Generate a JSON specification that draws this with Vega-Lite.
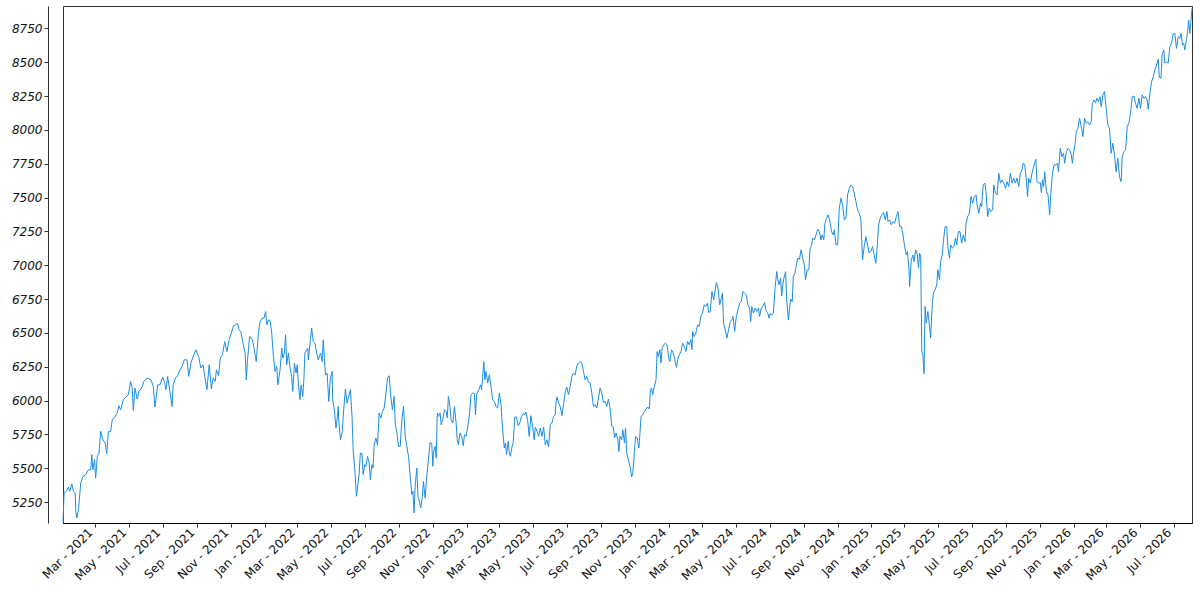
{
  "$schema": "https://vega.github.io/schema/vega-lite/v6.json",
  "width": 1129,
  "height": 517,
  "autosize": {"type": "none"},
  "padding": {"left": 63, "top": 6, "right": 8, "bottom": 77},
  "background": "white",
  "data": {
    "values": [
      {"date": "2021-01-02", "value": 5100}, {"date": "2021-01-04", "value": 5321}, {"date": "2021-01-08", "value": 5329},
      {"date": "2021-01-12", "value": 5361}, {"date": "2021-01-14", "value": 5329}, {"date": "2021-01-18", "value": 5383},
      {"date": "2021-01-21", "value": 5329}, {"date": "2021-01-24", "value": 5317}, {"date": "2021-01-25", "value": 5181},
      {"date": "2021-01-27", "value": 5132}, {"date": "2021-01-30", "value": 5194}, {"date": "2021-02-03", "value": 5391},
      {"date": "2021-02-07", "value": 5439}, {"date": "2021-02-12", "value": 5452}, {"date": "2021-02-17", "value": 5489},
      {"date": "2021-02-21", "value": 5489}, {"date": "2021-02-23", "value": 5600}, {"date": "2021-02-25", "value": 5489},
      {"date": "2021-02-28", "value": 5563}, {"date": "2021-03-02", "value": 5428}, {"date": "2021-03-05", "value": 5587},
      {"date": "2021-03-08", "value": 5612}, {"date": "2021-03-11", "value": 5772}, {"date": "2021-03-15", "value": 5710},
      {"date": "2021-03-19", "value": 5686}, {"date": "2021-03-22", "value": 5607}, {"date": "2021-03-25", "value": 5772},
      {"date": "2021-03-29", "value": 5772}, {"date": "2021-04-01", "value": 5858}, {"date": "2021-04-06", "value": 5882},
      {"date": "2021-04-10", "value": 5908}, {"date": "2021-04-13", "value": 5961}, {"date": "2021-04-16", "value": 5932},
      {"date": "2021-04-21", "value": 6006}, {"date": "2021-04-25", "value": 6023}, {"date": "2021-04-30", "value": 6043},
      {"date": "2021-05-04", "value": 6141}, {"date": "2021-05-07", "value": 6092}, {"date": "2021-05-09", "value": 5927},
      {"date": "2021-05-12", "value": 6092}, {"date": "2021-05-16", "value": 6011}, {"date": "2021-05-19", "value": 6067},
      {"date": "2021-05-24", "value": 6092}, {"date": "2021-05-28", "value": 6141}, {"date": "2021-06-03", "value": 6166},
      {"date": "2021-06-10", "value": 6153}, {"date": "2021-06-14", "value": 6104}, {"date": "2021-06-17", "value": 5952},
      {"date": "2021-06-22", "value": 6116}, {"date": "2021-06-26", "value": 6116}, {"date": "2021-07-01", "value": 6173},
      {"date": "2021-07-04", "value": 6141}, {"date": "2021-07-07", "value": 6080}, {"date": "2021-07-10", "value": 6178},
      {"date": "2021-07-14", "value": 6067}, {"date": "2021-07-18", "value": 5956}, {"date": "2021-07-20", "value": 6116},
      {"date": "2021-07-24", "value": 6166}, {"date": "2021-07-28", "value": 6183}, {"date": "2021-07-31", "value": 6215},
      {"date": "2021-08-05", "value": 6252}, {"date": "2021-08-09", "value": 6301}, {"date": "2021-08-14", "value": 6301},
      {"date": "2021-08-17", "value": 6178}, {"date": "2021-08-21", "value": 6277}, {"date": "2021-08-25", "value": 6325},
      {"date": "2021-08-30", "value": 6375}, {"date": "2021-09-04", "value": 6325}, {"date": "2021-09-08", "value": 6240},
      {"date": "2021-09-12", "value": 6264}, {"date": "2021-09-15", "value": 6178}, {"date": "2021-09-19", "value": 6080},
      {"date": "2021-09-23", "value": 6264}, {"date": "2021-09-27", "value": 6085}, {"date": "2021-09-30", "value": 6166},
      {"date": "2021-10-04", "value": 6141}, {"date": "2021-10-06", "value": 6227}, {"date": "2021-10-10", "value": 6183},
      {"date": "2021-10-13", "value": 6314}, {"date": "2021-10-17", "value": 6338}, {"date": "2021-10-21", "value": 6436},
      {"date": "2021-10-25", "value": 6362}, {"date": "2021-10-29", "value": 6449}, {"date": "2021-11-02", "value": 6498},
      {"date": "2021-11-06", "value": 6552}, {"date": "2021-11-10", "value": 6559}, {"date": "2021-11-13", "value": 6572},
      {"date": "2021-11-16", "value": 6522}, {"date": "2021-11-19", "value": 6510}, {"date": "2021-11-23", "value": 6424},
      {"date": "2021-11-27", "value": 6351}, {"date": "2021-11-29", "value": 6153}, {"date": "2021-12-01", "value": 6288},
      {"date": "2021-12-05", "value": 6473}, {"date": "2021-12-10", "value": 6449}, {"date": "2021-12-13", "value": 6387},
      {"date": "2021-12-17", "value": 6288}, {"date": "2021-12-21", "value": 6498}, {"date": "2021-12-24", "value": 6584},
      {"date": "2021-12-28", "value": 6609}, {"date": "2021-12-31", "value": 6609}, {"date": "2022-01-03", "value": 6658},
      {"date": "2022-01-05", "value": 6559}, {"date": "2022-01-08", "value": 6596}, {"date": "2022-01-11", "value": 6591},
      {"date": "2022-01-14", "value": 6498}, {"date": "2022-01-17", "value": 6325}, {"date": "2022-01-20", "value": 6215},
      {"date": "2022-01-23", "value": 6252}, {"date": "2022-01-25", "value": 6116}, {"date": "2022-01-29", "value": 6227},
      {"date": "2022-02-01", "value": 6387}, {"date": "2022-02-03", "value": 6314}, {"date": "2022-02-06", "value": 6351},
      {"date": "2022-02-08", "value": 6486}, {"date": "2022-02-10", "value": 6264}, {"date": "2022-02-13", "value": 6351},
      {"date": "2022-02-16", "value": 6240}, {"date": "2022-02-19", "value": 6178}, {"date": "2022-02-21", "value": 6067},
      {"date": "2022-02-24", "value": 6277}, {"date": "2022-02-27", "value": 6203}, {"date": "2022-03-01", "value": 6264},
      {"date": "2022-03-03", "value": 6129}, {"date": "2022-03-06", "value": 6006}, {"date": "2022-03-08", "value": 6116},
      {"date": "2022-03-11", "value": 6030}, {"date": "2022-03-13", "value": 6153}, {"date": "2022-03-15", "value": 6351},
      {"date": "2022-03-20", "value": 6387}, {"date": "2022-03-21", "value": 6301}, {"date": "2022-03-24", "value": 6412},
      {"date": "2022-03-27", "value": 6535}, {"date": "2022-03-30", "value": 6436}, {"date": "2022-04-02", "value": 6424},
      {"date": "2022-04-05", "value": 6351}, {"date": "2022-04-08", "value": 6301}, {"date": "2022-04-12", "value": 6351},
      {"date": "2022-04-15", "value": 6288}, {"date": "2022-04-17", "value": 6449}, {"date": "2022-04-21", "value": 6190},
      {"date": "2022-04-24", "value": 6203}, {"date": "2022-04-27", "value": 5993}, {"date": "2022-04-30", "value": 6166},
      {"date": "2022-05-03", "value": 6215}, {"date": "2022-05-04", "value": 6006}, {"date": "2022-05-07", "value": 5932},
      {"date": "2022-05-10", "value": 5797}, {"date": "2022-05-12", "value": 5858}, {"date": "2022-05-14", "value": 5956},
      {"date": "2022-05-15", "value": 5858}, {"date": "2022-05-18", "value": 5710}, {"date": "2022-05-21", "value": 5760},
      {"date": "2022-05-24", "value": 5932}, {"date": "2022-05-27", "value": 6085}, {"date": "2022-05-30", "value": 5981},
      {"date": "2022-06-02", "value": 6030}, {"date": "2022-06-05", "value": 6080}, {"date": "2022-06-08", "value": 5882},
      {"date": "2022-06-10", "value": 5637}, {"date": "2022-06-13", "value": 5489}, {"date": "2022-06-16", "value": 5292},
      {"date": "2022-06-19", "value": 5391}, {"date": "2022-06-21", "value": 5465}, {"date": "2022-06-23", "value": 5612},
      {"date": "2022-06-26", "value": 5607}, {"date": "2022-06-28", "value": 5452}, {"date": "2022-07-01", "value": 5526},
      {"date": "2022-07-03", "value": 5514}, {"date": "2022-07-06", "value": 5587}, {"date": "2022-07-09", "value": 5538},
      {"date": "2022-07-11", "value": 5415}, {"date": "2022-07-14", "value": 5526}, {"date": "2022-07-16", "value": 5501},
      {"date": "2022-07-18", "value": 5673}, {"date": "2022-07-21", "value": 5723}, {"date": "2022-07-24", "value": 5673},
      {"date": "2022-07-27", "value": 5908}, {"date": "2022-07-30", "value": 5871}, {"date": "2022-08-02", "value": 5919},
      {"date": "2022-08-05", "value": 5944}, {"date": "2022-08-08", "value": 6043}, {"date": "2022-08-11", "value": 6166},
      {"date": "2022-08-14", "value": 6183}, {"date": "2022-08-17", "value": 6030}, {"date": "2022-08-20", "value": 5932},
      {"date": "2022-08-23", "value": 6030}, {"date": "2022-08-25", "value": 5834}, {"date": "2022-08-28", "value": 5760},
      {"date": "2022-08-31", "value": 5661}, {"date": "2022-09-03", "value": 5661}, {"date": "2022-09-06", "value": 5858},
      {"date": "2022-09-09", "value": 5956}, {"date": "2022-09-12", "value": 5735}, {"date": "2022-09-15", "value": 5661},
      {"date": "2022-09-18", "value": 5587}, {"date": "2022-09-21", "value": 5439}, {"date": "2022-09-24", "value": 5304},
      {"date": "2022-09-26", "value": 5329}, {"date": "2022-09-28", "value": 5169}, {"date": "2022-09-30", "value": 5366},
      {"date": "2022-10-03", "value": 5501}, {"date": "2022-10-05", "value": 5292}, {"date": "2022-10-07", "value": 5267},
      {"date": "2022-10-10", "value": 5206}, {"date": "2022-10-13", "value": 5292}, {"date": "2022-10-15", "value": 5403},
      {"date": "2022-10-18", "value": 5280}, {"date": "2022-10-21", "value": 5439}, {"date": "2022-10-24", "value": 5563},
      {"date": "2022-10-27", "value": 5690}, {"date": "2022-10-30", "value": 5681}, {"date": "2022-11-01", "value": 5514},
      {"date": "2022-11-02", "value": 5612}, {"date": "2022-11-05", "value": 5661}, {"date": "2022-11-07", "value": 5575},
      {"date": "2022-11-09", "value": 5908}, {"date": "2022-11-11", "value": 5882}, {"date": "2022-11-14", "value": 5908},
      {"date": "2022-11-16", "value": 5821}, {"date": "2022-11-19", "value": 5858}, {"date": "2022-11-22", "value": 5932},
      {"date": "2022-11-25", "value": 5919}, {"date": "2022-11-27", "value": 5871}, {"date": "2022-11-29", "value": 6030},
      {"date": "2022-12-01", "value": 5981}, {"date": "2022-12-04", "value": 5858}, {"date": "2022-12-07", "value": 5834},
      {"date": "2022-12-10", "value": 5956}, {"date": "2022-12-13", "value": 5834}, {"date": "2022-12-15", "value": 5710},
      {"date": "2022-12-17", "value": 5673}, {"date": "2022-12-20", "value": 5760}, {"date": "2022-12-23", "value": 5735},
      {"date": "2022-12-26", "value": 5666}, {"date": "2022-12-28", "value": 5747}, {"date": "2022-12-31", "value": 5735},
      {"date": "2023-01-03", "value": 5809}, {"date": "2023-01-06", "value": 5895}, {"date": "2023-01-09", "value": 6043},
      {"date": "2023-01-12", "value": 6055}, {"date": "2023-01-15", "value": 6050}, {"date": "2023-01-17", "value": 5895},
      {"date": "2023-01-19", "value": 6043}, {"date": "2023-01-23", "value": 6080}, {"date": "2023-01-26", "value": 6116},
      {"date": "2023-01-28", "value": 6080}, {"date": "2023-01-30", "value": 6178}, {"date": "2023-02-01", "value": 6288},
      {"date": "2023-02-03", "value": 6153}, {"date": "2023-02-05", "value": 6215}, {"date": "2023-02-08", "value": 6129},
      {"date": "2023-02-11", "value": 6190}, {"date": "2023-02-14", "value": 6104}, {"date": "2023-02-17", "value": 6006},
      {"date": "2023-02-20", "value": 5993}, {"date": "2023-02-23", "value": 5956}, {"date": "2023-02-26", "value": 5944},
      {"date": "2023-03-01", "value": 6055}, {"date": "2023-03-04", "value": 5969}, {"date": "2023-03-07", "value": 5784},
      {"date": "2023-03-10", "value": 5649}, {"date": "2023-03-12", "value": 5686}, {"date": "2023-03-14", "value": 5600},
      {"date": "2023-03-17", "value": 5698}, {"date": "2023-03-19", "value": 5612}, {"date": "2023-03-21", "value": 5587},
      {"date": "2023-03-24", "value": 5661}, {"date": "2023-03-26", "value": 5686}, {"date": "2023-03-29", "value": 5878},
      {"date": "2023-04-01", "value": 5878}, {"date": "2023-04-04", "value": 5814}, {"date": "2023-04-07", "value": 5834},
      {"date": "2023-04-10", "value": 5882}, {"date": "2023-04-13", "value": 5902}, {"date": "2023-04-16", "value": 5895},
      {"date": "2023-04-18", "value": 5915}, {"date": "2023-04-21", "value": 5858}, {"date": "2023-04-24", "value": 5735},
      {"date": "2023-04-27", "value": 5888}, {"date": "2023-04-30", "value": 5809}, {"date": "2023-05-03", "value": 5710},
      {"date": "2023-05-05", "value": 5804}, {"date": "2023-05-08", "value": 5772}, {"date": "2023-05-11", "value": 5735},
      {"date": "2023-05-14", "value": 5797}, {"date": "2023-05-17", "value": 5735}, {"date": "2023-05-20", "value": 5804},
      {"date": "2023-05-23", "value": 5673}, {"date": "2023-05-26", "value": 5710}, {"date": "2023-05-29", "value": 5656},
      {"date": "2023-06-01", "value": 5821}, {"date": "2023-06-04", "value": 5834}, {"date": "2023-06-07", "value": 5882},
      {"date": "2023-06-10", "value": 5895}, {"date": "2023-06-11", "value": 5969}, {"date": "2023-06-13", "value": 6026},
      {"date": "2023-06-16", "value": 5981}, {"date": "2023-06-19", "value": 5956}, {"date": "2023-06-22", "value": 5888},
      {"date": "2023-06-25", "value": 5969}, {"date": "2023-06-28", "value": 6067}, {"date": "2023-07-01", "value": 6099},
      {"date": "2023-07-04", "value": 6043}, {"date": "2023-07-07", "value": 6104}, {"date": "2023-07-10", "value": 6178},
      {"date": "2023-07-13", "value": 6203}, {"date": "2023-07-16", "value": 6190}, {"date": "2023-07-19", "value": 6257},
      {"date": "2023-07-22", "value": 6277}, {"date": "2023-07-25", "value": 6288}, {"date": "2023-07-28", "value": 6281},
      {"date": "2023-07-31", "value": 6215}, {"date": "2023-08-03", "value": 6153}, {"date": "2023-08-06", "value": 6178},
      {"date": "2023-08-09", "value": 6133}, {"date": "2023-08-12", "value": 6129}, {"date": "2023-08-15", "value": 6055},
      {"date": "2023-08-18", "value": 5956}, {"date": "2023-08-21", "value": 5969}, {"date": "2023-08-24", "value": 5944},
      {"date": "2023-08-27", "value": 6018}, {"date": "2023-08-30", "value": 6092}, {"date": "2023-09-02", "value": 6055},
      {"date": "2023-09-05", "value": 5986}, {"date": "2023-09-08", "value": 5993}, {"date": "2023-09-11", "value": 5956},
      {"date": "2023-09-14", "value": 6011}, {"date": "2023-09-17", "value": 5944}, {"date": "2023-09-20", "value": 5809},
      {"date": "2023-09-23", "value": 5804}, {"date": "2023-09-25", "value": 5723}, {"date": "2023-09-28", "value": 5760},
      {"date": "2023-10-01", "value": 5710}, {"date": "2023-10-03", "value": 5624}, {"date": "2023-10-05", "value": 5735},
      {"date": "2023-10-08", "value": 5710}, {"date": "2023-10-10", "value": 5784}, {"date": "2023-10-13", "value": 5686},
      {"date": "2023-10-15", "value": 5797}, {"date": "2023-10-17", "value": 5612}, {"date": "2023-10-20", "value": 5563},
      {"date": "2023-10-23", "value": 5514}, {"date": "2023-10-26", "value": 5435}, {"date": "2023-10-28", "value": 5465},
      {"date": "2023-10-30", "value": 5563}, {"date": "2023-11-02", "value": 5735}, {"date": "2023-11-05", "value": 5723},
      {"date": "2023-11-08", "value": 5649}, {"date": "2023-11-09", "value": 5698}, {"date": "2023-11-12", "value": 5882},
      {"date": "2023-11-15", "value": 5895}, {"date": "2023-11-18", "value": 5919}, {"date": "2023-11-21", "value": 5937},
      {"date": "2023-11-24", "value": 5952}, {"date": "2023-11-27", "value": 5937}, {"date": "2023-11-29", "value": 6080},
      {"date": "2023-12-01", "value": 6092}, {"date": "2023-12-03", "value": 6043}, {"date": "2023-12-06", "value": 6104},
      {"date": "2023-12-09", "value": 6153}, {"date": "2023-12-11", "value": 6362}, {"date": "2023-12-13", "value": 6325},
      {"date": "2023-12-16", "value": 6375}, {"date": "2023-12-18", "value": 6277}, {"date": "2023-12-20", "value": 6387},
      {"date": "2023-12-23", "value": 6412}, {"date": "2023-12-26", "value": 6424}, {"date": "2023-12-29", "value": 6412},
      {"date": "2024-01-01", "value": 6314}, {"date": "2024-01-03", "value": 6288}, {"date": "2024-01-06", "value": 6375},
      {"date": "2024-01-09", "value": 6351}, {"date": "2024-01-12", "value": 6301}, {"date": "2024-01-15", "value": 6244},
      {"date": "2024-01-17", "value": 6301}, {"date": "2024-01-20", "value": 6338}, {"date": "2024-01-23", "value": 6362},
      {"date": "2024-01-26", "value": 6424}, {"date": "2024-01-29", "value": 6399}, {"date": "2024-02-01", "value": 6362},
      {"date": "2024-02-04", "value": 6436}, {"date": "2024-02-07", "value": 6412}, {"date": "2024-02-10", "value": 6449},
      {"date": "2024-02-12", "value": 6375}, {"date": "2024-02-13", "value": 6510}, {"date": "2024-02-16", "value": 6473},
      {"date": "2024-02-19", "value": 6498}, {"date": "2024-02-22", "value": 6559}, {"date": "2024-02-25", "value": 6547},
      {"date": "2024-02-28", "value": 6621}, {"date": "2024-03-02", "value": 6646}, {"date": "2024-03-05", "value": 6707},
      {"date": "2024-03-08", "value": 6695}, {"date": "2024-03-11", "value": 6720}, {"date": "2024-03-13", "value": 6650},
      {"date": "2024-03-16", "value": 6658}, {"date": "2024-03-19", "value": 6805}, {"date": "2024-03-22", "value": 6744},
      {"date": "2024-03-25", "value": 6818}, {"date": "2024-03-27", "value": 6872}, {"date": "2024-03-30", "value": 6830},
      {"date": "2024-04-02", "value": 6707}, {"date": "2024-04-05", "value": 6757}, {"date": "2024-04-07", "value": 6793},
      {"date": "2024-04-09", "value": 6572}, {"date": "2024-04-12", "value": 6522}, {"date": "2024-04-15", "value": 6461},
      {"date": "2024-04-18", "value": 6522}, {"date": "2024-04-21", "value": 6584}, {"date": "2024-04-24", "value": 6596},
      {"date": "2024-04-26", "value": 6621}, {"date": "2024-04-29", "value": 6510}, {"date": "2024-05-02", "value": 6621},
      {"date": "2024-05-05", "value": 6670}, {"date": "2024-05-08", "value": 6720}, {"date": "2024-05-11", "value": 6731},
      {"date": "2024-05-14", "value": 6805}, {"date": "2024-05-17", "value": 6793}, {"date": "2024-05-20", "value": 6781},
      {"date": "2024-05-23", "value": 6707}, {"date": "2024-05-26", "value": 6683}, {"date": "2024-05-28", "value": 6584},
      {"date": "2024-05-30", "value": 6695}, {"date": "2024-06-02", "value": 6646}, {"date": "2024-06-05", "value": 6683},
      {"date": "2024-06-08", "value": 6658}, {"date": "2024-06-11", "value": 6683}, {"date": "2024-06-13", "value": 6621},
      {"date": "2024-06-16", "value": 6683}, {"date": "2024-06-19", "value": 6695}, {"date": "2024-06-22", "value": 6724},
      {"date": "2024-06-25", "value": 6658}, {"date": "2024-06-28", "value": 6646}, {"date": "2024-06-30", "value": 6609},
      {"date": "2024-07-02", "value": 6641}, {"date": "2024-07-06", "value": 6633}, {"date": "2024-07-08", "value": 6646},
      {"date": "2024-07-11", "value": 6830}, {"date": "2024-07-14", "value": 6953}, {"date": "2024-07-16", "value": 6892},
      {"date": "2024-07-18", "value": 6855}, {"date": "2024-07-21", "value": 6904}, {"date": "2024-07-23", "value": 6774},
      {"date": "2024-07-25", "value": 6855}, {"date": "2024-07-27", "value": 6904}, {"date": "2024-07-30", "value": 6953},
      {"date": "2024-08-01", "value": 6744}, {"date": "2024-08-04", "value": 6596}, {"date": "2024-08-06", "value": 6670},
      {"date": "2024-08-08", "value": 6749}, {"date": "2024-08-11", "value": 6731}, {"date": "2024-08-13", "value": 6916},
      {"date": "2024-08-16", "value": 6941}, {"date": "2024-08-18", "value": 6990}, {"date": "2024-08-21", "value": 7052},
      {"date": "2024-08-24", "value": 7044}, {"date": "2024-08-27", "value": 7113}, {"date": "2024-08-30", "value": 7052},
      {"date": "2024-09-02", "value": 7002}, {"date": "2024-09-04", "value": 6892}, {"date": "2024-09-07", "value": 6965},
      {"date": "2024-09-10", "value": 6965}, {"date": "2024-09-12", "value": 7113}, {"date": "2024-09-15", "value": 7150},
      {"date": "2024-09-17", "value": 7200}, {"date": "2024-09-20", "value": 7187}, {"date": "2024-09-23", "value": 7224},
      {"date": "2024-09-26", "value": 7266}, {"date": "2024-09-29", "value": 7248}, {"date": "2024-10-02", "value": 7187},
      {"date": "2024-10-04", "value": 7224}, {"date": "2024-10-07", "value": 7187}, {"date": "2024-10-09", "value": 7310},
      {"date": "2024-10-12", "value": 7347}, {"date": "2024-10-15", "value": 7372}, {"date": "2024-10-18", "value": 7322},
      {"date": "2024-10-21", "value": 7248}, {"date": "2024-10-24", "value": 7224}, {"date": "2024-10-26", "value": 7261},
      {"date": "2024-10-29", "value": 7150}, {"date": "2024-11-01", "value": 7150}, {"date": "2024-11-04", "value": 7421},
      {"date": "2024-11-07", "value": 7495}, {"date": "2024-11-10", "value": 7445}, {"date": "2024-11-13", "value": 7335},
      {"date": "2024-11-16", "value": 7347}, {"date": "2024-11-19", "value": 7519}, {"date": "2024-11-22", "value": 7569},
      {"date": "2024-11-25", "value": 7593}, {"date": "2024-11-28", "value": 7581}, {"date": "2024-12-01", "value": 7532},
      {"date": "2024-12-04", "value": 7470}, {"date": "2024-12-07", "value": 7409}, {"date": "2024-12-10", "value": 7384},
      {"date": "2024-12-13", "value": 7335}, {"date": "2024-12-16", "value": 7039}, {"date": "2024-12-19", "value": 7138},
      {"date": "2024-12-22", "value": 7211}, {"date": "2024-12-25", "value": 7150}, {"date": "2024-12-28", "value": 7089},
      {"date": "2024-12-31", "value": 7101}, {"date": "2025-01-03", "value": 7138}, {"date": "2025-01-06", "value": 7076},
      {"date": "2025-01-09", "value": 7015}, {"date": "2025-01-11", "value": 7113}, {"date": "2025-01-14", "value": 7298},
      {"date": "2025-01-17", "value": 7347}, {"date": "2025-01-20", "value": 7372}, {"date": "2025-01-23", "value": 7389},
      {"date": "2025-01-26", "value": 7335}, {"date": "2025-01-29", "value": 7396}, {"date": "2025-01-31", "value": 7322},
      {"date": "2025-02-03", "value": 7335}, {"date": "2025-02-06", "value": 7298}, {"date": "2025-02-09", "value": 7322},
      {"date": "2025-02-12", "value": 7310}, {"date": "2025-02-15", "value": 7359}, {"date": "2025-02-18", "value": 7396},
      {"date": "2025-02-21", "value": 7285}, {"date": "2025-02-24", "value": 7285}, {"date": "2025-02-27", "value": 7224},
      {"date": "2025-03-02", "value": 7138}, {"date": "2025-03-05", "value": 7076}, {"date": "2025-03-07", "value": 7101},
      {"date": "2025-03-10", "value": 6965}, {"date": "2025-03-11", "value": 6842}, {"date": "2025-03-14", "value": 7039},
      {"date": "2025-03-17", "value": 7076}, {"date": "2025-03-19", "value": 7027}, {"date": "2025-03-22", "value": 7113},
      {"date": "2025-03-25", "value": 7076}, {"date": "2025-03-27", "value": 6978}, {"date": "2025-03-29", "value": 7089},
      {"date": "2025-03-31", "value": 7064}, {"date": "2025-04-02", "value": 6362}, {"date": "2025-04-04", "value": 6338},
      {"date": "2025-04-06", "value": 6198}, {"date": "2025-04-08", "value": 6695}, {"date": "2025-04-10", "value": 6572},
      {"date": "2025-04-13", "value": 6658}, {"date": "2025-04-16", "value": 6547}, {"date": "2025-04-18", "value": 6461},
      {"date": "2025-04-21", "value": 6720}, {"date": "2025-04-23", "value": 6793}, {"date": "2025-04-26", "value": 6818},
      {"date": "2025-04-29", "value": 6855}, {"date": "2025-05-01", "value": 6965}, {"date": "2025-05-04", "value": 6892},
      {"date": "2025-05-06", "value": 7027}, {"date": "2025-05-09", "value": 7076}, {"date": "2025-05-11", "value": 7174},
      {"date": "2025-05-14", "value": 7285}, {"date": "2025-05-17", "value": 7285}, {"date": "2025-05-19", "value": 7138},
      {"date": "2025-05-22", "value": 7052}, {"date": "2025-05-24", "value": 7150}, {"date": "2025-05-27", "value": 7126},
      {"date": "2025-05-30", "value": 7138}, {"date": "2025-06-02", "value": 7200}, {"date": "2025-06-04", "value": 7150},
      {"date": "2025-06-07", "value": 7248}, {"date": "2025-06-10", "value": 7248}, {"date": "2025-06-13", "value": 7163},
      {"date": "2025-06-16", "value": 7224}, {"date": "2025-06-19", "value": 7174}, {"date": "2025-06-21", "value": 7310},
      {"date": "2025-06-24", "value": 7359}, {"date": "2025-06-27", "value": 7384}, {"date": "2025-06-30", "value": 7507},
      {"date": "2025-07-03", "value": 7458}, {"date": "2025-07-06", "value": 7507}, {"date": "2025-07-09", "value": 7519},
      {"date": "2025-07-11", "value": 7445}, {"date": "2025-07-14", "value": 7384}, {"date": "2025-07-17", "value": 7458},
      {"date": "2025-07-19", "value": 7433}, {"date": "2025-07-22", "value": 7593}, {"date": "2025-07-25", "value": 7606},
      {"date": "2025-07-27", "value": 7544}, {"date": "2025-07-30", "value": 7359}, {"date": "2025-08-02", "value": 7421},
      {"date": "2025-08-05", "value": 7396}, {"date": "2025-08-08", "value": 7409}, {"date": "2025-08-10", "value": 7593},
      {"date": "2025-08-13", "value": 7532}, {"date": "2025-08-16", "value": 7519}, {"date": "2025-08-19", "value": 7679},
      {"date": "2025-08-22", "value": 7606}, {"date": "2025-08-25", "value": 7630}, {"date": "2025-08-28", "value": 7606},
      {"date": "2025-08-31", "value": 7569}, {"date": "2025-09-03", "value": 7617}, {"date": "2025-09-06", "value": 7581},
      {"date": "2025-09-09", "value": 7679}, {"date": "2025-09-12", "value": 7606}, {"date": "2025-09-15", "value": 7643},
      {"date": "2025-09-18", "value": 7606}, {"date": "2025-09-21", "value": 7643}, {"date": "2025-09-24", "value": 7581},
      {"date": "2025-09-27", "value": 7679}, {"date": "2025-09-30", "value": 7704}, {"date": "2025-10-02", "value": 7753},
      {"date": "2025-10-05", "value": 7741}, {"date": "2025-10-08", "value": 7617}, {"date": "2025-10-10", "value": 7507},
      {"date": "2025-10-12", "value": 7643}, {"date": "2025-10-15", "value": 7606}, {"date": "2025-10-18", "value": 7679},
      {"date": "2025-10-21", "value": 7728}, {"date": "2025-10-25", "value": 7783}, {"date": "2025-10-27", "value": 7617},
      {"date": "2025-10-30", "value": 7606}, {"date": "2025-11-02", "value": 7610}, {"date": "2025-11-04", "value": 7536},
      {"date": "2025-11-06", "value": 7630}, {"date": "2025-11-08", "value": 7581}, {"date": "2025-11-10", "value": 7691},
      {"date": "2025-11-13", "value": 7544}, {"date": "2025-11-16", "value": 7519}, {"date": "2025-11-19", "value": 7372},
      {"date": "2025-11-21", "value": 7532}, {"date": "2025-11-24", "value": 7679}, {"date": "2025-11-27", "value": 7741},
      {"date": "2025-11-30", "value": 7741}, {"date": "2025-12-03", "value": 7753}, {"date": "2025-12-05", "value": 7691},
      {"date": "2025-12-08", "value": 7864}, {"date": "2025-12-11", "value": 7802}, {"date": "2025-12-14", "value": 7827},
      {"date": "2025-12-16", "value": 7753}, {"date": "2025-12-19", "value": 7839}, {"date": "2025-12-22", "value": 7864},
      {"date": "2025-12-25", "value": 7851}, {"date": "2025-12-28", "value": 7815}, {"date": "2025-12-30", "value": 7753},
      {"date": "2026-01-01", "value": 7827}, {"date": "2026-01-04", "value": 7901}, {"date": "2026-01-06", "value": 7987},
      {"date": "2026-01-09", "value": 8012}, {"date": "2026-01-12", "value": 8085}, {"date": "2026-01-15", "value": 8024},
      {"date": "2026-01-18", "value": 7950}, {"date": "2026-01-21", "value": 8085}, {"date": "2026-01-24", "value": 8049},
      {"date": "2026-01-27", "value": 8060}, {"date": "2026-01-30", "value": 8036}, {"date": "2026-02-02", "value": 8060},
      {"date": "2026-02-04", "value": 8196}, {"date": "2026-02-07", "value": 8221}, {"date": "2026-02-10", "value": 8201},
      {"date": "2026-02-12", "value": 8233}, {"date": "2026-02-15", "value": 8208}, {"date": "2026-02-18", "value": 8245},
      {"date": "2026-02-20", "value": 8171}, {"date": "2026-02-23", "value": 8258}, {"date": "2026-02-26", "value": 8282},
      {"date": "2026-03-01", "value": 8159}, {"date": "2026-03-04", "value": 8036}, {"date": "2026-03-07", "value": 8012},
      {"date": "2026-03-10", "value": 7827}, {"date": "2026-03-13", "value": 7901}, {"date": "2026-03-16", "value": 7815},
      {"date": "2026-03-19", "value": 7691}, {"date": "2026-03-22", "value": 7790}, {"date": "2026-03-25", "value": 7654},
      {"date": "2026-03-28", "value": 7617}, {"date": "2026-03-30", "value": 7802}, {"date": "2026-04-02", "value": 7839},
      {"date": "2026-04-05", "value": 7851}, {"date": "2026-04-07", "value": 7962}, {"date": "2026-04-08", "value": 8024},
      {"date": "2026-04-11", "value": 8049}, {"date": "2026-04-14", "value": 8122}, {"date": "2026-04-17", "value": 8245},
      {"date": "2026-04-20", "value": 8250}, {"date": "2026-04-23", "value": 8196}, {"date": "2026-04-26", "value": 8159},
      {"date": "2026-04-29", "value": 8233}, {"date": "2026-05-02", "value": 8159}, {"date": "2026-05-05", "value": 8258},
      {"date": "2026-05-08", "value": 8233}, {"date": "2026-05-11", "value": 8245}, {"date": "2026-05-14", "value": 8221},
      {"date": "2026-05-16", "value": 8152}, {"date": "2026-05-19", "value": 8270}, {"date": "2026-05-22", "value": 8356},
      {"date": "2026-05-25", "value": 8393}, {"date": "2026-05-28", "value": 8442}, {"date": "2026-05-31", "value": 8479},
      {"date": "2026-06-03", "value": 8521}, {"date": "2026-06-05", "value": 8388}, {"date": "2026-06-08", "value": 8381},
      {"date": "2026-06-10", "value": 8553}, {"date": "2026-06-13", "value": 8590}, {"date": "2026-06-15", "value": 8492},
      {"date": "2026-06-18", "value": 8503}, {"date": "2026-06-21", "value": 8492}, {"date": "2026-06-24", "value": 8614},
      {"date": "2026-06-27", "value": 8639}, {"date": "2026-06-30", "value": 8708}, {"date": "2026-07-03", "value": 8713},
      {"date": "2026-07-06", "value": 8602}, {"date": "2026-07-09", "value": 8688}, {"date": "2026-07-12", "value": 8676},
      {"date": "2026-07-14", "value": 8713}, {"date": "2026-07-17", "value": 8627}, {"date": "2026-07-19", "value": 8639},
      {"date": "2026-07-21", "value": 8590}, {"date": "2026-07-24", "value": 8664}, {"date": "2026-07-26", "value": 8725},
      {"date": "2026-07-28", "value": 8811}, {"date": "2026-07-30", "value": 8713}, {"date": "2026-08-01", "value": 8799},
      {"date": "2026-08-03", "value": 8898}
    ]
  },
  "mark": {"type": "line", "color": "#1a8de9", "strokeWidth": 1, "interpolate": "linear"},
  "encoding": {
    "x": {
      "field": "date",
      "type": "temporal",
      "title": null,
      "scale": {"nice": false},
      "axis": {
        "format": "%b - %Y",
        "tickCount": {"interval": "month", "step": 2},
        "labelAngle": -45,
        "labelAlign": "right",
        "labelBaseline": "bottom",
        "labelOverlap": false,
        "labelFlush": false,
        "grid": false,
        "domainColor": "#000000",
        "tickColor": "#333333",
        "tickSize": 4,
        "labelFont": "DejaVu Sans",
        "labelFontSize": 12,
        "labelColor": "#111111",
        "labelPadding": 8
      }
    },
    "y": {
      "field": "value",
      "type": "quantitative",
      "title": null,
      "scale": {"domain": [5095, 8915], "nice": false, "zero": false},
      "axis": {
        "values": [5250, 5500, 5750, 6000, 6250, 6500, 6750, 7000, 7250, 7500, 7750, 8000, 8250, 8500, 8750],
        "format": "d",
        "offset": 15,
        "grid": false,
        "domainColor": "#333333",
        "tickColor": "#333333",
        "tickSize": 4,
        "labelFont": "DejaVu Sans",
        "labelFontSize": 12,
        "labelFontStyle": "italic",
        "labelColor": "#111111",
        "labelPadding": 2
      }
    }
  },
  "config": {
    "view": {"stroke": "#333333", "strokeWidth": 1}
  }
}
